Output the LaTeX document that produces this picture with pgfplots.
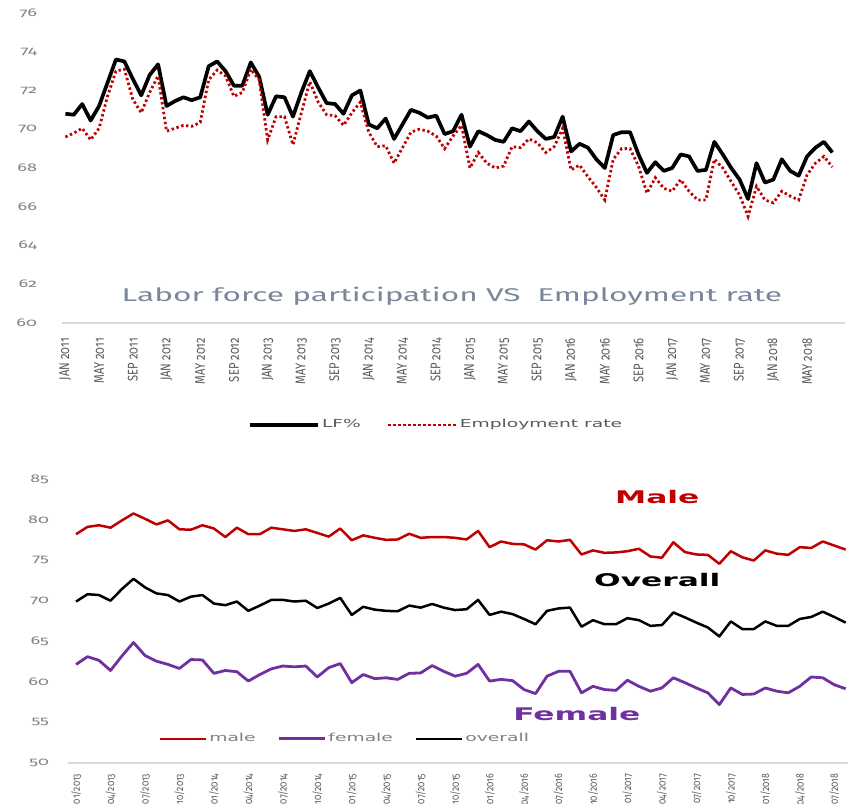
\documentclass[border=0pt]{standalone}
\usepackage{pgfplots}
\usepackage{pgfplotstable}
\pgfplotsset{compat=1.18}
\usepackage{fontspec}
\setmainfont{Fira Sans}
\newfontfamily\tickfont{Fira Sans}[Numbers=OldStyle,FakeStretch=1.6]
\newfontfamily\xtickfont{Fira Sans}[Numbers=OldStyle,FakeStretch=0.8]
\newfontfamily\titlefont{Fira Sans}[FakeStretch=1.72]
\newfontfamily\legfont{DejaVu Sans}[FakeStretch=1.7]
\newfontfamily\bigbold{DejaVu Sans}[FakeStretch=1.8]
\definecolor{darkred}{HTML}{C00000}
\definecolor{purp}{HTML}{7030A0}
\definecolor{tickgray}{HTML}{808080}
\definecolor{xlabgray}{HTML}{595959}
\definecolor{titlecol}{HTML}{7A8699}
\definecolor{axgray}{HTML}{D9D9D9}

\pgfplotstableread{
lf emp
70.8 69.6
70.75 69.8
71.3 70.05
70.45 69.45
71.2 70.05
72.4 71.7
73.6 73.0
73.5 73.1
72.6 71.55
71.75 70.85
72.8 71.9
73.35 72.75
71.2 69.9
71.45 70.05
71.65 70.2
71.5 70.15
71.65 70.35
73.25 72.55
73.5 73.05
73.0 72.75
72.25 71.7
72.25 71.9
73.45 73.1
72.7 72.55
70.75 69.45
71.7 70.65
71.65 70.65
70.65 69.2
71.9 70.85
73.0 72.45
72.15 71.4
71.35 70.75
71.3 70.7
70.8 70.2
71.75 70.85
72.0 71.4
70.25 69.85
70.05 69.1
70.55 69.15
69.5 68.25
70.25 69.05
71.0 69.85
70.85 70.0
70.6 69.9
70.7 69.65
69.75 69.0
69.9 69.65
70.75 70.2
69.1 68.0
69.9 68.8
69.7 68.25
69.45 68.0
69.35 68.1
70.05 69.1
69.9 69.05
70.4 69.5
69.9 69.3
69.5 68.8
69.6 69.1
70.65 70.05
68.85 67.9
69.25 68.15
69.05 67.55
68.45 67.0
68.0 66.35
69.7 68.45
69.85 69.0
69.85 69.0
68.7 68.1
67.75 66.7
68.3 67.5
67.85 66.95
68.0 66.8
68.7 67.4
68.6 66.8
67.85 66.35
67.9 66.35
69.35 68.45
68.7 68.0
68.0 67.3
67.4 66.6
66.4 65.5
68.25 67.05
67.25 66.35
67.4 66.2
68.45 66.8
67.85 66.55
67.6 66.35
68.6 67.65
69.05 68.25
69.35 68.6
68.8 68.05
}\topdata

\pgfplotstableread{
male overall female
78.2 69.9 62.15
79.1 70.8 63.1
79.3 70.7 62.65
79.0 70.0 61.4
79.9 71.45 63.2
80.75 72.7 64.85
80.1 71.65 63.25
79.4 70.9 62.55
79.9 70.7 62.15
78.8 69.9 61.65
78.75 70.5 62.75
79.3 70.7 62.7
78.9 69.65 61.05
77.85 69.45 61.4
79.0 69.9 61.25
78.2 68.75 60.1
78.2 69.4 60.9
79.0 70.1 61.6
78.8 70.1 61.95
78.6 69.9 61.85
78.8 70.0 61.95
78.35 69.1 60.6
77.9 69.65 61.75
78.9 70.35 62.25
77.45 68.25 59.9
78.05 69.25 60.9
77.75 68.9 60.4
77.5 68.75 60.5
77.55 68.7 60.3
78.25 69.4 61.05
77.75 69.15 61.1
77.85 69.6 62.0
77.85 69.15 61.3
77.75 68.85 60.7
77.55 68.95 61.05
78.6 70.1 62.15
76.6 68.25 60.1
77.3 68.65 60.3
77.0 68.35 60.15
76.95 67.75 59.05
76.3 67.1 58.55
77.45 68.75 60.7
77.3 69.05 61.3
77.5 69.15 61.3
75.7 66.8 58.65
76.2 67.6 59.45
75.9 67.1 59.05
75.95 67.1 58.95
76.1 67.85 60.2
76.4 67.6 59.45
75.45 66.9 58.85
75.3 67.0 59.25
77.2 68.55 60.5
76.0 67.95 59.9
75.7 67.3 59.25
75.65 66.7 58.65
74.55 65.6 57.2
76.1 67.45 59.25
75.35 66.5 58.45
74.95 66.5 58.5
76.2 67.45 59.25
75.8 66.9 58.85
75.65 66.9 58.65
76.6 67.75 59.45
76.5 68.0 60.6
77.3 68.65 60.5
76.8 68.0 59.65
76.3 67.3 59.15
}\botdata

\begin{document}
\begin{tikzpicture}
\path[use as bounding box] (0,0) rectangle (424pt,402pt);
% ---------- top panel ----------
\begin{axis}[
  at={(31pt,240.5pt)}, anchor=south west,
  scale only axis, width=391.5pt, height=155pt,
  xmin=-0.4, xmax=92.5, ymin=60, ymax=76,
  ytick={60,62,...,76},
  xtick={0,4,...,88},
  xticklabels={JAN 2011,MAY 2011,SEP 2011,JAN 2012,MAY 2012,SEP 2012,JAN 2013,MAY 2013,SEP 2013,JAN 2014,MAY 2014,SEP 2014,JAN 2015,MAY 2015,SEP 2015,JAN 2016,MAY 2016,SEP 2016,JAN 2017,MAY 2017,SEP 2017,JAN 2018,MAY 2018},
  axis x line*=bottom, axis y line*=left,
  x axis line style={draw=axgray, line width=0.8pt, -},
  y axis line style={draw=none},
  major tick length=0pt, tick style={draw=none},
  /pgf/number format/assume math mode=true,
  yticklabel style={font=\tickfont\fontsize{5.6}{6}\selectfont, text=tickgray, xshift=-9pt},
  xticklabel style={rotate=90, anchor=east, font=\xtickfont\fontsize{7}{7}\selectfont, text=xlabgray, xshift=-4pt},
  clip=false,
  legend style={at={(0.478,-0.329)}, anchor=center, draw=none, fill=none,
    legend columns=-1, font=\legfont\fontsize{5.5}{6}\selectfont, text=xlabgray,
    /tikz/every even column/.append style={column sep=12pt},
    nodes={inner sep=1pt}},
  legend image code/.code={\draw[#1] (0pt,0pt) -- (34pt,0pt);},
]
\addplot[black, line width=1.85pt, line join=round] table[x expr=\coordindex, y=lf] {\topdata};
\addlegendentry{LF\%}
\addplot[darkred, line width=1.4pt, dash pattern=on 1.2pt off 1.3pt] table[x expr=\coordindex, y=emp] {\topdata};
\addlegendentry{Employment rate}
\node[font=\titlefont\fontsize{9.2}{10}\selectfont, text=titlecol] at (rel axis cs:0.498,0.087) {Labor force participation VS\ \ Employment rate};
\end{axis}
% ---------- bottom panel ----------
\begin{axis}[
  at={(34pt,20.5pt)}, anchor=south west,
  scale only axis, width=390pt, height=142pt,
  xmin=-0.7, xmax=67.2, ymin=50, ymax=85,
  ytick={50,55,...,85},
  xtick={0,3,...,66},
  xticklabels={01/2013,04/2013,07/2013,10/2013,01/2014,04/2014,07/2014,10/2014,01/2015,04/2015,07/2015,10/2015,01/2016,04/2016,07/2016,10/2016,01/2017,04/2017,07/2017,10/2017,01/2018,04/2018,07/2018},
  axis x line*=bottom, axis y line*=left,
  x axis line style={draw=axgray, line width=0.8pt, -},
  y axis line style={draw=none},
  major tick length=0pt, tick style={draw=none},
  /pgf/number format/assume math mode=true,
  yticklabel style={font=\tickfont\fontsize{5.6}{6}\selectfont, text=tickgray, xshift=-6pt},
  xticklabel style={rotate=90, anchor=east, font=\xtickfont\fontsize{5.4}{6}\selectfont, text=xlabgray, xshift=-2pt},
  clip=false,
  legend style={at={(0.355,0.085)}, anchor=center, draw=none, fill=none,
    legend columns=-1, font=\legfont\fontsize{5.5}{6}\selectfont, text=tickgray,
    /tikz/every even column/.append style={column sep=10pt},
    nodes={inner sep=1pt}},
  legend image code/.code={\draw[#1] (0pt,0pt) -- (23pt,0pt);},
]
\addplot[darkred, line width=1.25pt, line join=round] table[x expr=\coordindex, y=male] {\botdata};
\addlegendentry{male}
\addplot[purp, line width=1.4pt, line join=round] table[x expr=\coordindex, y=female] {\botdata};
\addlegendentry{female}
\addplot[black, line width=1.25pt, line join=round] table[x expr=\coordindex, y=overall] {\botdata};
\addlegendentry{overall}
\node[font=\bigbold\bfseries\fontsize{8.7}{9}\selectfont, text=darkred] at (axis cs:50.6,82.8) {Male};
\node[font=\bigbold\bfseries\fontsize{8.7}{9}\selectfont, text=black] at (axis cs:50.6,72.55) {Overall};
\node[font=\bigbold\bfseries\fontsize{8.7}{9}\selectfont, text=purp] at (axis cs:43.6,56.0) {Female};
\end{axis}
\end{tikzpicture}
\end{document}
